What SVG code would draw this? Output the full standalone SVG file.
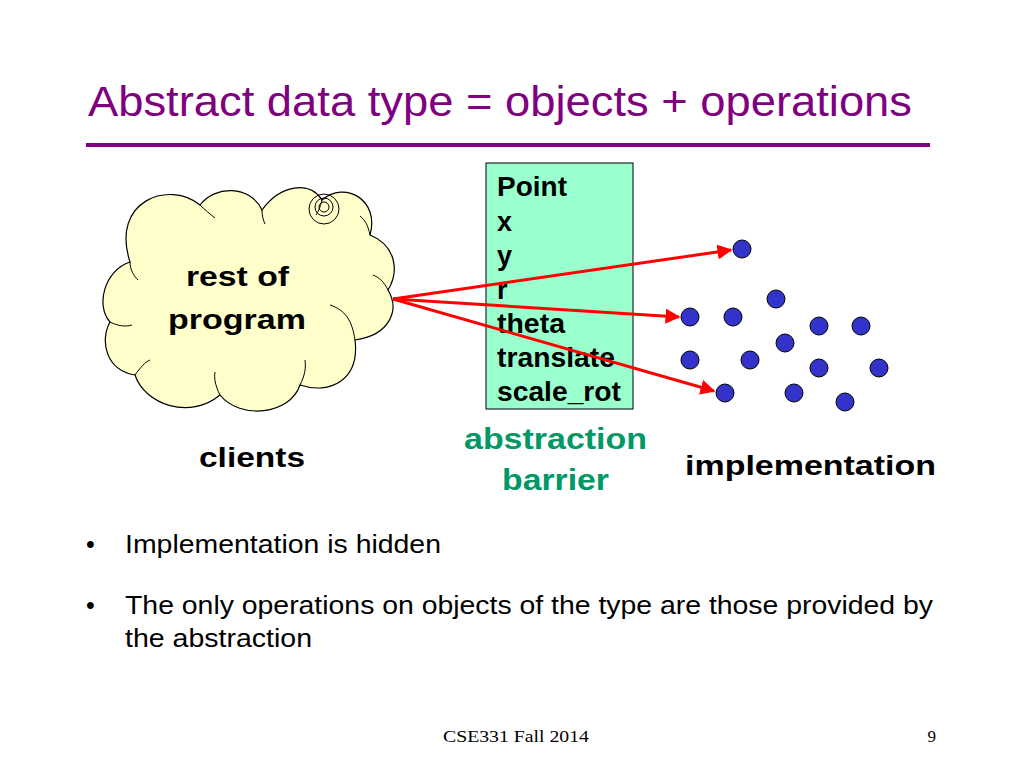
<svg xmlns="http://www.w3.org/2000/svg" width="1024" height="768" viewBox="0 0 1024 768">
<style>
.b{font-family:"Liberation Sans",Arial,sans-serif;font-weight:bold;font-size:27px;fill:#000}
.n{font-family:"Liberation Sans",Arial,sans-serif;font-size:25px;fill:#000}
.g{font-family:"Liberation Sans",Arial,sans-serif;font-weight:bold;font-size:30px;fill:#009966}
.dot{fill:#3333cc;stroke:#000;stroke-width:1}
.arr{stroke:#ff0000;stroke-width:3;fill:none;marker-end:url(#ah)}
</style>
<defs><marker id="ah" viewBox="0 0 10 10" refX="9" refY="5" markerWidth="5" markerHeight="5" orient="auto"><path d="M0,0 L10,5 L0,10 z" fill="#ff0000"/></marker></defs>
<rect width="1024" height="768" fill="#fff"/>
<text x="88" y="116" font-family="Liberation Sans,Arial,sans-serif" font-size="42" fill="#800080" textLength="824" lengthAdjust="spacingAndGlyphs">Abstract data type = objects + operations</text>
<rect x="86" y="143" width="844" height="4" fill="#800080"/>
<g id="cloud">
<path d="M130,262 C110,200 170,180 200,205 C215,185 250,185 262,210 C280,185 310,180 322,200 C345,180 380,200 370,235 C395,245 400,270 388,290 C400,310 390,335 355,340 C360,380 330,395 300,385 C290,415 240,420 220,395 C190,420 145,405 135,375 C105,370 100,340 110,322 C95,305 105,270 130,262 Z" fill="#ffffcc" stroke="#000" stroke-width="1.2"/>
<path d="M130,262 C130,270 134,276 138,280 M110,322 C118,326 125,327 132,325 M135,375 C140,368 145,362 150,360 M220,395 C215,385 214,378 215,372 M300,385 C305,375 306,368 305,360 M355,340 C352,320 345,310 330,305 M388,290 C384,282 380,278 373,275 M370,235 C368,225 365,220 360,216 M322,200 C320,208 318,212 316,215 M262,210 C262,215 263,220 265,224 M200,205 C205,210 210,214 215,218" fill="none" stroke="#000" stroke-width="1"/>
<circle cx="324" cy="209" r="15" fill="none" stroke="#000"/>
<circle cx="324" cy="207" r="9" fill="none" stroke="#000"/>
<circle cx="324" cy="207" r="5" fill="none" stroke="#000"/>
<text x="186" y="286" class="b" font-size="29" textLength="103" lengthAdjust="spacingAndGlyphs">rest of</text>
<text x="168" y="329" class="b" font-size="29" textLength="138" lengthAdjust="spacingAndGlyphs">program</text>
</g>
<text x="199" y="467" class="b" font-size="29" textLength="106" lengthAdjust="spacingAndGlyphs">clients</text>
<g id="barrier">
<rect x="486" y="163" width="147" height="246" fill="#99ffcc" stroke="#000" stroke-width="1"/>
<text x="497" y="196" class="b" textLength="70" lengthAdjust="spacingAndGlyphs">Point</text>
<text x="497" y="231" class="b">x</text>
<text x="497" y="265" class="b">y</text>
<text x="497" y="299" class="b">r</text>
<text x="497" y="333" class="b" textLength="68" lengthAdjust="spacingAndGlyphs">theta</text>
<text x="497" y="367" class="b" textLength="118" lengthAdjust="spacingAndGlyphs">translate</text>
<text x="497" y="401" class="b" textLength="124" lengthAdjust="spacingAndGlyphs">scale_rot</text>
<text x="464" y="449" class="g" textLength="183" lengthAdjust="spacingAndGlyphs">abstraction</text>
<text x="502" y="490" class="g" textLength="107" lengthAdjust="spacingAndGlyphs">barrier</text>
</g>
<g id="implementation">
<circle class="dot" cx="742" cy="249" r="9"/><circle class="dot" cx="776" cy="299" r="9"/>
<circle class="dot" cx="690" cy="317" r="9"/><circle class="dot" cx="733" cy="317" r="9"/>
<circle class="dot" cx="819" cy="326" r="9"/><circle class="dot" cx="861" cy="326" r="9"/>
<circle class="dot" cx="785" cy="343" r="9"/><circle class="dot" cx="690" cy="360" r="9"/>
<circle class="dot" cx="750" cy="360" r="9"/><circle class="dot" cx="819" cy="368" r="9"/>
<circle class="dot" cx="879" cy="368" r="9"/><circle class="dot" cx="725" cy="393" r="9"/>
<circle class="dot" cx="794" cy="393" r="9"/><circle class="dot" cx="845" cy="402" r="9"/>
<text x="685" y="475" class="b" font-size="30" textLength="251" lengthAdjust="spacingAndGlyphs">implementation</text>
</g>
<g id="connectors">
<line class="arr" x1="393" y1="299" x2="731" y2="250"/>
<line class="arr" x1="393" y1="299" x2="679" y2="317"/>
<line class="arr" x1="393" y1="299" x2="714" y2="391"/>
</g>
<text x="86" y="553" class="n">•</text>
<text x="125" y="553" class="n" textLength="316" lengthAdjust="spacingAndGlyphs">Implementation is hidden</text>
<text x="86" y="614" class="n">•</text>
<text x="125" y="614" class="n" textLength="808" lengthAdjust="spacingAndGlyphs">The only operations on objects of the type are those provided by</text>
<text x="125" y="647" class="n" textLength="187" lengthAdjust="spacingAndGlyphs">the abstraction</text>
<text x="443" y="742" font-family="Liberation Serif,serif" font-size="17" textLength="146" lengthAdjust="spacingAndGlyphs">CSE331 Fall 2014</text>
<text x="936" y="742" font-family="Liberation Serif,serif" font-size="17" text-anchor="end">9</text>
</svg>
